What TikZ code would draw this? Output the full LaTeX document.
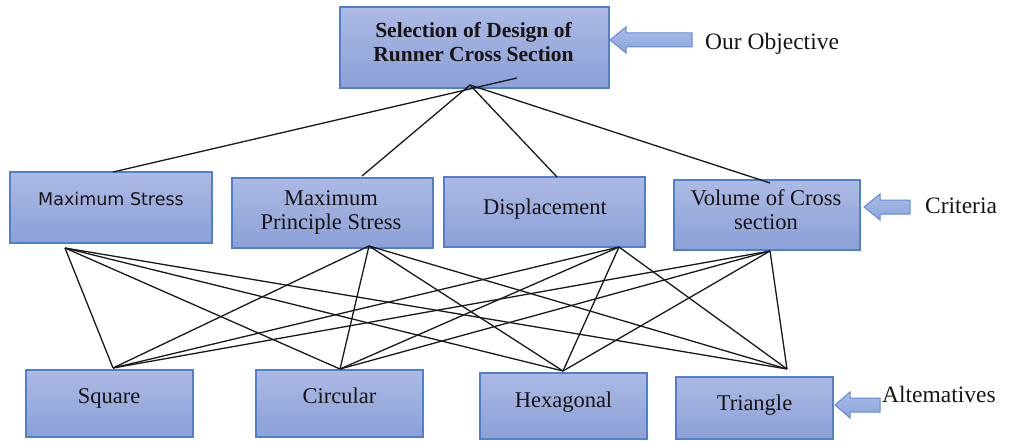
\documentclass[tikz,border=0pt]{standalone}
\usepackage{fontspec}
\setmainfont{Liberation Serif}
\newfontfamily\sansfont{DejaVu Sans}
\definecolor{boxtop}{RGB}{172,186,228}
\definecolor{boxbot}{RGB}{139,160,215}
\definecolor{boxline}{RGB}{80,128,205}
\definecolor{arrtop}{RGB}{170,188,230}
\definecolor{arrbot}{RGB}{140,164,220}
\definecolor{arrline}{RGB}{95,138,214}
\definecolor{txt}{RGB}{25,20,20}
\tikzset{
  box/.style={draw=boxline, line width=1.1pt, top color=boxtop, bottom color=boxbot, inner sep=0pt, rectangle},
  lbl/.style={inner sep=0pt, anchor=base, text=txt, font=\fontsize{22.5}{24.5}\selectfont},
  toplbl/.style={inner sep=0pt, anchor=base, text=txt, font=\fontsize{21.5}{24.5}\selectfont\bfseries},
  side/.style={inner sep=0pt, anchor=base west, text=txt, font=\fontsize{23.5}{26}\selectfont},
  link/.style={line width=1.3pt, black!90},
  blockarrow/.style={draw=arrline, line width=1pt, top color=arrtop, bottom color=arrbot, line join=miter},
}
\begin{document}
\begin{tikzpicture}[x=1pt,y=-1pt]
\useasboundingbox (0,0) rectangle (1016,441);

% boxes
\node[box, minimum width=269pt, minimum height=81pt] (goal) at (474.5,47.5) {};
\node[box, minimum width=202pt, minimum height=71pt] (ms)   at (111,207.5) {};
\node[box, minimum width=201pt, minimum height=70pt] (mps)  at (332.5,213) {};
\node[box, minimum width=201pt, minimum height=70pt] (disp) at (544.5,212) {};
\node[box, minimum width=186pt, minimum height=70pt] (vol)  at (767,215) {};
\node[box, minimum width=167pt, minimum height=67pt] (sq)   at (109.5,403.5) {};
\node[box, minimum width=167pt, minimum height=67pt] (circ) at (339.5,403.5) {};
\node[box, minimum width=167pt, minimum height=66pt] (hex)  at (563.5,406) {};
\node[box, minimum width=157pt, minimum height=62pt] (tri)  at (754.5,408) {};

% texts
\node[toplbl] (goal-t) at (473.5,37.5) {\begin{tabular}[t]{@{}c@{}}Selection of Design of\\Runner Cross Section\end{tabular}};
\node[lbl, font=\sansfont\fontsize{17.5}{20}\selectfont] (ms-t) at (111,205) {Maximum Stress};
\node[lbl] (mps-t) at (331,205) {\begin{tabular}[t]{@{}c@{}}Maximum\\Principle Stress\end{tabular}};
\node[lbl] (disp-t) at (545,214) {Displacement};
\node[lbl] (vol-t) at (766,205) {\begin{tabular}[t]{@{}c@{}}Volume of Cross\\section\end{tabular}};
\node[lbl] (sq-t) at (109,403) {Square};
\node[lbl] (circ-t) at (339.5,403) {Circular};
\node[lbl] (hex-t) at (563.5,407) {Hexagonal};
\node[lbl] (tri-t) at (754.5,410) {Triangle};

% side labels and block arrows
\node[side] (obj) at (705,49.5) {Our Objective};
\node[side] (crit) at (925,213) {Criteria};
\node[side] (alt) at (882,402) {Altematives};

\draw[blockarrow] (610,40) -- (626,27) -- (626,33) -- (692,33) -- (692,47) -- (626,47) -- (626,53) -- cycle;
\draw[blockarrow] (864,207) -- (880,194) -- (880,200) -- (910,200) -- (910,214) -- (880,214) -- (880,220) -- cycle;
\draw[blockarrow] (835,405) -- (850,392) -- (850,398) -- (880,398) -- (880,412) -- (850,412) -- (850,418) -- cycle;

% connector points
\coordinate (apex) at (470,85);
\coordinate (apex2) at (517,78);
\coordinate (ms-top) at (113,172);
\coordinate (mps-top) at (362,176);
\coordinate (disp-top) at (557,177);
\coordinate (vol-top) at (770,183);

\coordinate (ms-b) at (65,248);
\coordinate (mps-b) at (369,246);
\coordinate (disp-b) at (619,247);
\coordinate (vol-b) at (770,251);

\coordinate (sq-a) at (113,368);
\coordinate (circ-a) at (340,369);
\coordinate (hex-a) at (563,371);
\coordinate (tri-a) at (787,369);

\draw[link] (apex2) -- (ms-top);
\draw[link] (apex) -- (mps-top);
\draw[link] (apex) -- (disp-top);
\draw[link] (apex) -- (vol-top);

\foreach \c in {ms-b,mps-b,disp-b,vol-b}{
  \foreach \a in {sq-a,circ-a,hex-a,tri-a}{
    \draw[link] (\c) -- (\a);
  }
}
\end{tikzpicture}
\end{document}
